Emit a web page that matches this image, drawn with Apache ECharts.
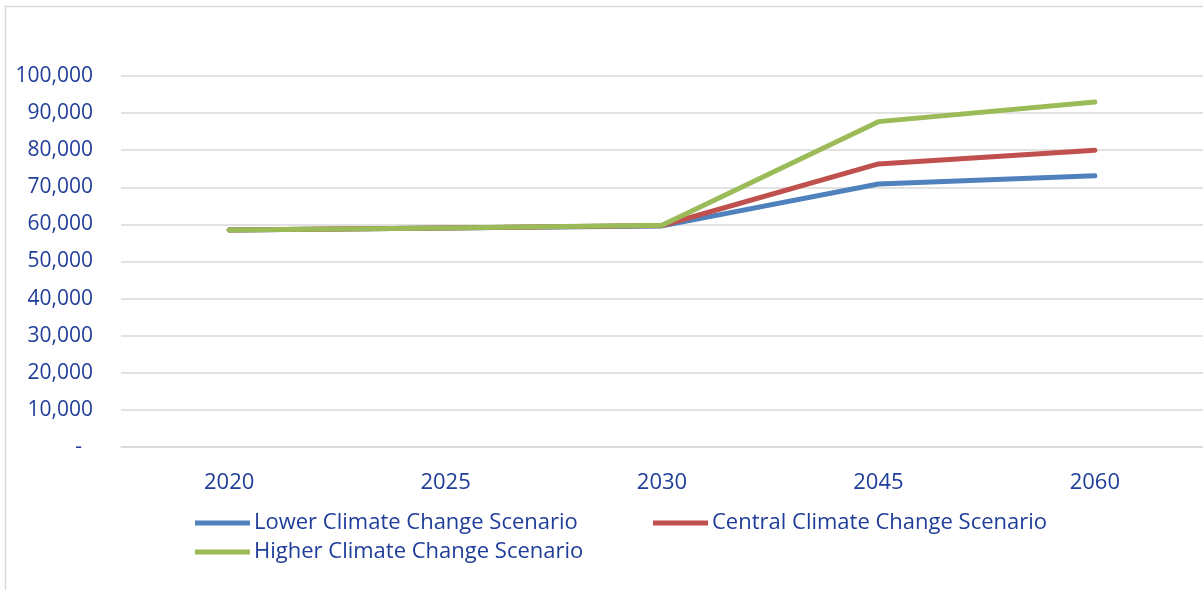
<!DOCTYPE html>
<html><head><meta charset="utf-8">
<script src="https://cdn.jsdelivr.net/npm/echarts@6/dist/echarts.min.js"></script>
<style>html,body{margin:0;padding:0;background:#fff}#c{width:1203px;height:590px}</style>
</head><body><div id="c"></div>
<script>
const categories = ['2020','2025','2030','2045','2060'];
const lowerValues = [58500, 59000, 59600, 70900, 73100];
const centralValues = [58500, 59000, 59700, 76300, 80000];
const higherValues = [58500, 59000, 59800, 87700, 93000];
const seriesNames = ['Lower Climate Change Scenario','Central Climate Change Scenario','Higher Climate Change Scenario'];
const colors = ['#4F81BD','#C0504D','#9BBB59'];
const txt = '#1F3D99';
const font = '"Open Sans", Lato, sans-serif';
const chart = echarts.init(document.getElementById('c'));
const legendBase = {icon:'rect', padding:0, itemWidth:55, itemHeight:5, itemGap:4, textStyle:{color:txt, fontSize:22, fontFamily:font, padding:[0,0,0,-1]}, selectedMode:false};
chart.setOption({
  animation:false,
  graphic:[{type:'rect', shape:{x:5.5,y:6.5,width:1220,height:600}, style:{fill:'none', stroke:'#D9D9D9', lineWidth:1.5}}],
  grid:{left:121, right:-6, top:76, bottom:143, containLabel:false},
  legend:[
    Object.assign({}, legendBase, {data:[seriesNames[0]], left:195, top:512}),
    Object.assign({}, legendBase, {data:[seriesNames[1]], left:653, top:512}),
    Object.assign({}, legendBase, {data:[seriesNames[2]], left:195, top:541})
  ],
  xAxis:{type:'category', data:categories, boundaryGap:true,
    axisLine:{lineStyle:{color:'#D9D9D9', width:1.5}}, axisTick:{show:false},
    axisLabel:{color:txt, fontSize:22, fontFamily:font, margin:25}},
  yAxis:{type:'value', min:0, max:100000, interval:10000,
    axisLine:{show:false}, axisTick:{show:false},
    splitLine:{lineStyle:{color:'#D9D9D9', width:1.5}},
    axisLabel:{color:txt, fontSize:21, fontFamily:font, margin:28,
      formatter:v => v === 0 ? '-  ' : v.toLocaleString('en-US')}},
  series:[lowerValues, centralValues, higherValues].map((d,i)=>({
    name:seriesNames[i], type:'line', data:d, symbol:'none',
    lineStyle:{width:5, color:colors[i], cap:'round', join:'round'}, itemStyle:{color:colors[i]}
  }))
});
</script></body></html>
